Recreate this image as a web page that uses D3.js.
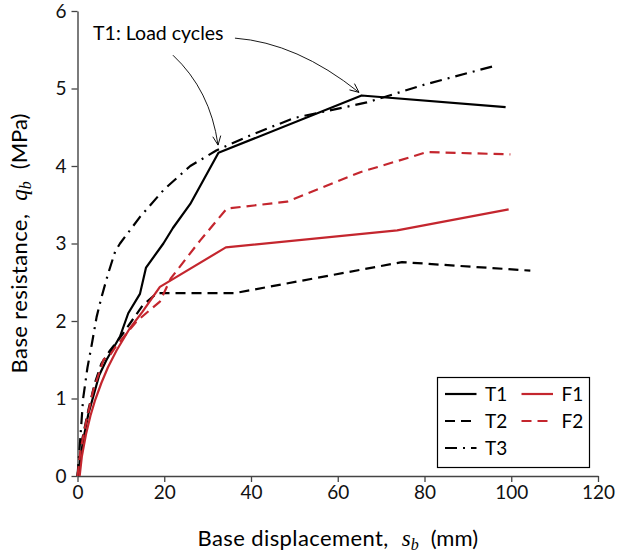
<!DOCTYPE html>
<html>
<head>
<meta charset="utf-8">
<script src="https://cdn.jsdelivr.net/npm/d3@7"></script>
<style>
  body { margin: 0; background: #fff; }
  text { font-family: Lato, "Noto Sans", sans-serif; }
</style>
</head>
<body>
<div id="wrapper"></div>
<script>
// data: [displacement mm, resistance MPa]
const xTicks = [0, 20, 40, 60, 80, 100, 120];
const yTicks = [0, 1, 2, 3, 4, 5, 6];
const t1 = [[0.3,0],[0.6,0.2],[1.3,0.46],[2.5,0.8],[3.6,1.02],[5,1.3],[6.7,1.5],[9.8,1.8],[11.7,2.1],[14.4,2.35],[15.8,2.69],[19.8,3.0],[22,3.2],[26,3.51],[32.5,4.17],[65.5,4.91],[98.7,4.76]];
const t2 = [[0,0],[1,0.45],[2.5,0.85],[4,1.2],[5.5,1.45],[7.5,1.62],[10,1.8],[12.5,2.0],[15,2.2],[18.3,2.36],[36.3,2.36],[74.8,2.76],[104.4,2.65]];
const t3 = [[0,0],[0.6,0.45],[1.3,1.0],[2.3,1.4],[3.3,1.7],[4.4,2.05],[5.5,2.3],[7,2.6],[8.7,2.9],[9.8,3.0],[14.5,3.35],[20,3.7],[26,4.0],[32,4.2],[40,4.4],[50,4.62],[66.7,4.82],[80,5.05],[96.7,5.3]];
const f1 = [[0.5,0],[1,0.25],[2,0.55],[3,0.78],[4,0.97],[5.5,1.2],[7,1.4],[9,1.62],[12,1.9],[15,2.12],[19,2.44],[34.2,2.95],[73.7,3.17],[99.4,3.44]];
const f2 = [[0,0],[0.7,0.33],[2,0.7],[3.6,1.1],[6,1.5],[7.5,1.56],[8.7,1.66],[13.7,2.0],[19,2.25],[21.5,2.55],[28.3,3.04],[34.4,3.45],[48.3,3.54],[65.2,3.92],[80.6,4.18],[99.8,4.15]];
const seriesNames = ["T1", "T2", "T3", "F1", "F2"];
const annotationText = "T1: Load cycles";
const annotationAt = [3.6, 5.62];
// arrows: [start, control, end] in data units
const arrows = [
  [[22.0, 5.43], [30.6, 4.98], [32.4, 4.27]],
  [[36.3, 5.65], [50.6, 5.59], [64.9, 4.95]]
];

const width = 617, height = 558;
const red = "#c4262e";
const styles = {
  T1: { color: "#000", dash: null },
  T2: { color: "#000", dash: "10,6" },
  T3: { color: "#000", dash: "12,6,2,6" },
  F1: { color: red, dash: null },
  F2: { color: red, dash: "10,6" }
};
const seriesData = { T1: t1, T2: t2, T3: t3, F1: f1, F2: f2 };

const svg = d3.select("#wrapper").append("svg")
  .attr("width", width)
  .attr("height", height);

const x = d3.scaleLinear().domain([0, 120]).range([77.5, 598]);
const y = d3.scaleLinear().domain([0, 6]).range([476, 11]);

// axes
const axisColor = "#444";
const xAxis = svg.append("g")
  .attr("transform", "translate(0," + y(0) + ")")
  .call(d3.axisBottom(x).tickValues(xTicks).tickFormat(d3.format("d")).tickSize(6).tickSizeOuter(0).tickPadding(4));
const yAxis = svg.append("g")
  .attr("transform", "translate(" + x(0) + ",0)")
  .call(d3.axisLeft(y).tickValues(yTicks).tickFormat(d3.format("d")).tickSize(6).tickSizeOuter(0).tickPadding(5));
[xAxis, yAxis].forEach(g => {
  g.select(".domain").attr("stroke", axisColor).attr("stroke-width", 1.4);
  g.selectAll(".tick line").attr("stroke", axisColor).attr("stroke-width", 1.3);
  g.selectAll(".tick text").attr("fill", "#111").style("font-size", "19px").style("font-family", "Lato, sans-serif");
});

// series
const line = d3.line().x(d => x(d[0])).y(d => y(d[1]));
svg.append("g")
  .selectAll("path")
  .data(seriesNames)
  .enter()
  .append("path")
  .attr("d", name => line(seriesData[name]))
  .attr("fill", "none")
  .attr("stroke", name => styles[name].color)
  .attr("stroke-dasharray", name => styles[name].dash)
  .attr("stroke-width", 2.2)
  .attr("stroke-linejoin", "round");

// axis labels: word part, italic symbol with subscript, unit
const mathFont = "'Liberation Serif', serif";
function axisLabel(sel, words, sym, unit) {
  sel.style("font-size", "22px").attr("text-anchor", "middle");
  sel.append("tspan").text(words).style("letter-spacing", "0.4px");
  sel.append("tspan").text(sym).attr("dx", 13)
    .style("font-family", mathFont).style("font-style", "italic").style("font-size", "23px");
  sel.append("tspan").text("b").attr("dy", 4)
    .style("font-family", mathFont).style("font-style", "italic").style("font-size", "16px");
  sel.append("tspan").text("(" + unit + ")").attr("dy", -4).attr("dx", 12);
}
axisLabel(svg.append("text").attr("x", (x(0) + x(120)) / 2).attr("y", 546),
  "Base displacement,", "s", "mm");
axisLabel(svg.append("text").attr("transform", "translate(27," + (y(0) + y(6)) / 2 + ") rotate(-90)"),
  "Base resistance,", "q", "MPa");

// annotation
svg.append("defs").append("marker")
  .attr("id", "head")
  .attr("markerUnits", "userSpaceOnUse")
  .attr("viewBox", "-10 -6 12 12")
  .attr("refX", 0).attr("refY", 0)
  .attr("markerWidth", 12).attr("markerHeight", 12)
  .attr("orient", "auto")
  .append("path")
  .attr("d", "M-9,-4 L0,0 L-9,4")
  .attr("fill", "none")
  .attr("stroke", "#000")
  .attr("stroke-width", 0.9);

svg.append("text")
  .attr("x", x(annotationAt[0]))
  .attr("y", y(annotationAt[1]))
  .style("font-size", "19.5px")
  .text(annotationText);

svg.append("g")
  .selectAll("path")
  .data(arrows)
  .enter()
  .append("path")
  .attr("d", a => "M" + x(a[0][0]) + "," + y(a[0][1]) + " Q" + x(a[1][0]) + "," + y(a[1][1]) + " " + x(a[2][0]) + "," + y(a[2][1]))
  .attr("fill", "none")
  .attr("stroke", "#000")
  .attr("stroke-width", 0.9)
  .attr("marker-end", "url(#head)");

// legend
const legend = svg.append("g").attr("transform", "translate(437.5,377.5)");
legend.append("rect")
  .attr("width", 152).attr("height", 90)
  .attr("fill", "#fff")
  .attr("stroke", "#000")
  .attr("stroke-width", 1.2);
const legendPos = { T1: [0, 0], T2: [0, 1], T3: [0, 2], F1: [1, 0], F2: [1, 1] };
const items = legend.selectAll("g.item")
  .data(seriesNames)
  .enter()
  .append("g")
  .attr("class", "item")
  .attr("transform", name => "translate(" + (7.5 + legendPos[name][0] * 76.5) + "," + (16.5 + legendPos[name][1] * 27) + ")");
items.append("line")
  .attr("x1", 0).attr("x2", 31.5)
  .attr("stroke", name => styles[name].color)
  .attr("stroke-dasharray", name => styles[name].dash)
  .attr("stroke-width", 2.2);
items.append("text")
  .attr("x", 40)
  .attr("y", 6.5)
  .style("font-size", "19px")
  .text(name => name);
</script>
</body>
</html>
